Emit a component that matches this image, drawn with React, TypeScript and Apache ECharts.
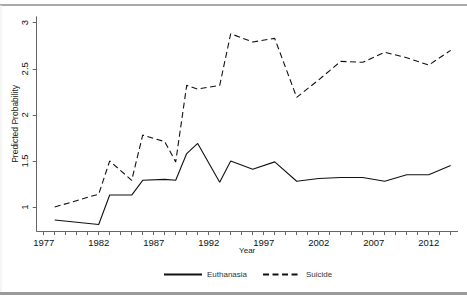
import React, { useEffect, useRef } from "react";
import * as echarts from "echarts";

const years = [1978, 1982, 1983, 1985, 1986, 1988, 1989, 1990, 1991, 1993, 1994, 1996, 1998, 2000, 2002, 2004, 2006, 2008, 2010, 2012, 2014];
const euthanasia = [0.86, 0.81, 1.13, 1.13, 1.29, 1.30, 1.29, 1.58, 1.69, 1.27, 1.50, 1.41, 1.49, 1.28, 1.31, 1.32, 1.32, 1.28, 1.35, 1.35, 1.45];
const suicide = [1.0, 1.14, 1.50, 1.29, 1.78, 1.71, 1.49, 2.32, 2.28, 2.32, 2.88, 2.79, 2.83, 2.19, 2.38, 2.58, 2.57, 2.68, 2.62, 2.54, 2.70];
const xLabels = [1977, 1982, 1987, 1992, 1997, 2002, 2007, 2012];
const xTicks = [1977, 1978, 1979, 1980, 1981, 1982, 1983, 1984, 1985, 1986, 1987, 1988, 1989, 1990, 1991, 1992, 1993, 1994, 1995, 1996, 1997, 1998, 1999, 2000, 2001, 2002, 2003, 2004, 2005, 2006, 2007, 2008, 2009, 2010, 2011, 2012, 2013, 2014];
const yLabels = [1, 1.5, 2, 2.5, 3];

const FONT = "Arial, 'Liberation Sans', sans-serif";

export default function App() {
  const ref = useRef<HTMLDivElement>(null);
  useEffect(() => {
    if (!ref.current) return;
    const chart = echarts.init(ref.current, undefined, { renderer: "svg" });
    const axisColor = "#666";
    chart.setOption({
      animation: false,
      backgroundColor: "#fff",
      grid: { left: 36.7, right: 9.3, top: 16.7, bottom: 67, containLabel: false, outerBoundsMode: "none" },
      xAxis: {
        type: "value",
        min: 1976.364,
        max: 2014.636,
        name: "Year",
        nameLocation: "middle",
        nameGap: 15,
        nameMoveOverlap: false,
        nameTextStyle: { fontFamily: FONT, fontSize: 8, color: "#222" },
        axisLine: { show: true, lineStyle: { color: axisColor, width: 1 } },
        axisTick: { show: true, length: 4, inside: false, customValues: xTicks, lineStyle: { color: axisColor } },
        axisLabel: { customValues: xLabels, margin: 6, fontFamily: FONT, fontSize: 9.5, color: "#111", formatter: (v: number) => String(v) },
        splitLine: { show: false },
      },
      yAxis: {
        type: "value",
        min: 0.74,
        max: 3.065,
        name: "Predicted Probability",
        nameLocation: "middle",
        nameRotate: 90,
        nameGap: 17,
        nameMoveOverlap: false,
        nameTextStyle: { fontFamily: FONT, fontSize: 8.5, color: "#222" },
        axisLine: { show: true, lineStyle: { color: axisColor, width: 1 } },
        axisTick: { show: true, length: 4, customValues: yLabels, lineStyle: { color: axisColor } },
        axisLabel: { customValues: yLabels, rotate: 90, margin: 7, fontFamily: FONT, fontSize: 9.5, color: "#111", formatter: (v: number) => String(v) },
        splitLine: { show: false },
      },
      legend: {
        left: 158,
        top: 264,
        itemWidth: 38,
        itemHeight: 14,
        itemGap: 15,
        itemStyle: { opacity: 0 },
        textStyle: { fontFamily: FONT, fontSize: 8, color: "#333" },
        data: ["Euthanasia", "Suicide"],
      },
      graphic: [
        { type: "rect", shape: { x: 0, y: 4.5, width: 467, height: 1 }, style: { fill: "#555" }, silent: true },
        { type: "rect", shape: { x: 0, y: 292, width: 467, height: 3 }, style: { fill: "#9a9a9a" }, silent: true },
        { type: "rect", shape: { x: 0.5, y: 5, width: 1, height: 287 }, style: { fill: "#eee" }, silent: true },
      ],
      series: [
        {
          name: "Euthanasia",
          type: "line",
          data: years.map((y, i) => [y, euthanasia[i]]),
          symbol: "none",
          showSymbol: false,
          lineStyle: { color: "#111", width: 1.1, type: "solid" },
          itemStyle: { color: "#111" },
        },
        {
          name: "Suicide",
          type: "line",
          data: years.map((y, i) => [y, suicide[i]]),
          symbol: "none",
          showSymbol: false,
          lineStyle: { color: "#111", width: 1.1, type: [6, 3.5] },
          itemStyle: { color: "#111" },
        },
      ],
    });
    return () => chart.dispose();
  }, []);
  return <div ref={ref} style={{ position: "fixed", left: 0, top: 0, width: 467, height: 298 }} />;
}
